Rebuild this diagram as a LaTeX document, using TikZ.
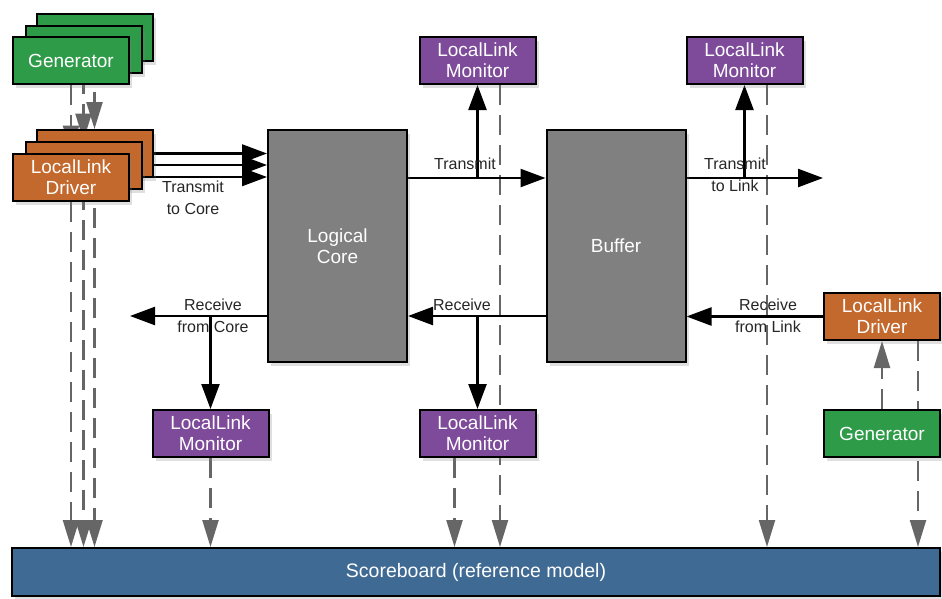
\documentclass[tikz,border=0pt]{standalone}
\usepackage{fontspec}
\setmainfont{Liberation Sans}
\usetikzlibrary{arrows.meta,shadows,calc}
\pgfdeclarelayer{bg}
\pgfsetlayers{bg,main}
\definecolor{gengreen}{HTML}{2E9B48}
\definecolor{drvorange}{HTML}{C4692D}
\definecolor{monpurple}{HTML}{7E4A9A}
\definecolor{sbblue}{HTML}{3F6A93}
\definecolor{coregray}{HTML}{808080}
\definecolor{lgray}{HTML}{666666}
\begin{document}
\begin{tikzpicture}[x=1pt,y=-1pt,
 box/.style={draw=black, line width=2pt, text=white, font=\fontsize{19}{21}\selectfont, align=center,
   minimum width=116pt, minimum height=47pt, inner sep=0pt,
   drop shadow={shadow xshift=3pt,shadow yshift=-4pt,opacity=0.25}},
 genbox/.style={box, fill=gengreen},
 drvbox/.style={box, fill=drvorange},
 monbox/.style={box, fill=monpurple},
 bigbox/.style={box, fill=coregray, minimum width=139pt, minimum height=232pt},
 blk/.style={draw=black, line width=2.4pt, -{Triangle[length=25pt,width=18pt]}},
 gline/.style={draw=lgray, line width=2.3pt, dash pattern=on 20pt off 10pt},
 garr/.style={gline, -{Triangle[length=27pt,width=16pt]}},
 lbl/.style={font=\fontsize{16}{22}\selectfont, align=center, text=black!85, inner sep=0pt}]
\useasboundingbox (0,0) rectangle (942,598);

% left generator stack
\node[genbox] (gen3) at (94.5,37) {};
\node[genbox] (gen2) at (83.5,49) {};
\node[genbox] (gen1) at (71,60.5) {Generator};
% left driver stack
\node[drvbox] (drv3) at (94.5,153.5) {};
\node[drvbox] (drv2) at (83.5,165) {};
\node[drvbox] (drv1) at (71,177) {LocalLink\\Driver};

\node[bigbox] (core) at (337.5,246) {Logical\\Core};
\node[bigbox] (buf) at (616,246) {Buffer};

\node[monbox] (montm) at (477.5,60.5) {LocalLink\\Monitor};
\node[monbox] (montr) at (744.5,60.5) {LocalLink\\Monitor};
\node[monbox] (monbl) at (210.5,433.5) {LocalLink\\Monitor};
\node[monbox] (monbm) at (477.5,433.5) {LocalLink\\Monitor};

\node[drvbox] (drvr) at (882,316.5) {LocalLink\\Driver};
\node[genbox] (genr) at (882,433.5) {Generator};

\node[box, fill=sbblue, minimum width=928pt, minimum height=48pt, font=\fontsize{19.5}{21}\selectfont] (sb) at (476,572) {Scoreboard (reference model)};

\coordinate (txend) at (823,178);
\coordinate (rxend) at (130,316);

% labels
\node[lbl] (l1) at (193,198) {Transmit\\to Core};
\node[lbl] (l2) at (465,164) {Transmit};
\node[lbl] (l3) at (735,175) {Transmit\\to Link};
\node[lbl] (l4) at (213,316) {Receive\\from Core};
\node[lbl] (l5) at (462,305) {Receive};
\node[lbl] (l6) at (768,316) {Receive\\from Link};

\begin{pgfonlayer}{bg}
% gray dashed
\draw[garr] (gen1.south) -- (drv1.north);
\draw[garr] (gen2.south) -- (drv2.north);
\draw[garr] (gen3.south) -- (drv3.north);
\draw[garr] (drv1.south) -- (drv1.south |- sb.north);
\draw[garr] (drv2.south) -- (drv2.south |- sb.north);
\draw[garr] (drv3.south) -- (drv3.south |- sb.north);
\draw[garr] (monbl.south) -- (monbl.south |- sb.north);
\draw[garr] ([xshift=-23pt]monbm.south) coordinate (m1) -- (m1 |- sb.north);
\draw[garr] ([xshift=22.5pt]montm.south) coordinate (m2) -- (m2 |- sb.north);
\draw[garr] ([xshift=22.5pt]montr.south) coordinate (m3) -- (m3 |- sb.north);
\draw[garr] ([xshift=36pt]drvr.south) coordinate (m4) -- (m4 |- sb.north);
\draw[garr] (genr.north) -- (drvr.south);
% black data paths
\draw[blk] (drv3.east) -- (drv3.east -| core.west);
\draw[blk] (drv2.east) -- (drv2.east -| core.west);
\draw[blk] (drv1.east) -- (drv1.east -| core.west);
\draw[blk] ([yshift=68pt]core.east) coordinate (t1) -- (t1 -| buf.west);
\draw[blk] (t1 -| montm.south) -- (montm.south);
\draw[blk] ([yshift=68pt]buf.east) coordinate (t2) -- (txend);
\draw[blk] (t2 -| montr.south) -- (montr.south);
\draw[blk] ([yshift=-70pt]buf.west) coordinate (r1) -- (r1 -| core.east);
\draw[blk] (r1 -| monbm.north) -- (monbm.north);
\draw[blk] ([yshift=-70pt]core.west) coordinate (r2) -- (rxend);
\draw[blk] (r2 -| monbl.north) -- (monbl.north);
\draw[blk] (drvr.west) -- (drvr.west -| buf.east);
\end{pgfonlayer}
\end{tikzpicture}
\end{document}
